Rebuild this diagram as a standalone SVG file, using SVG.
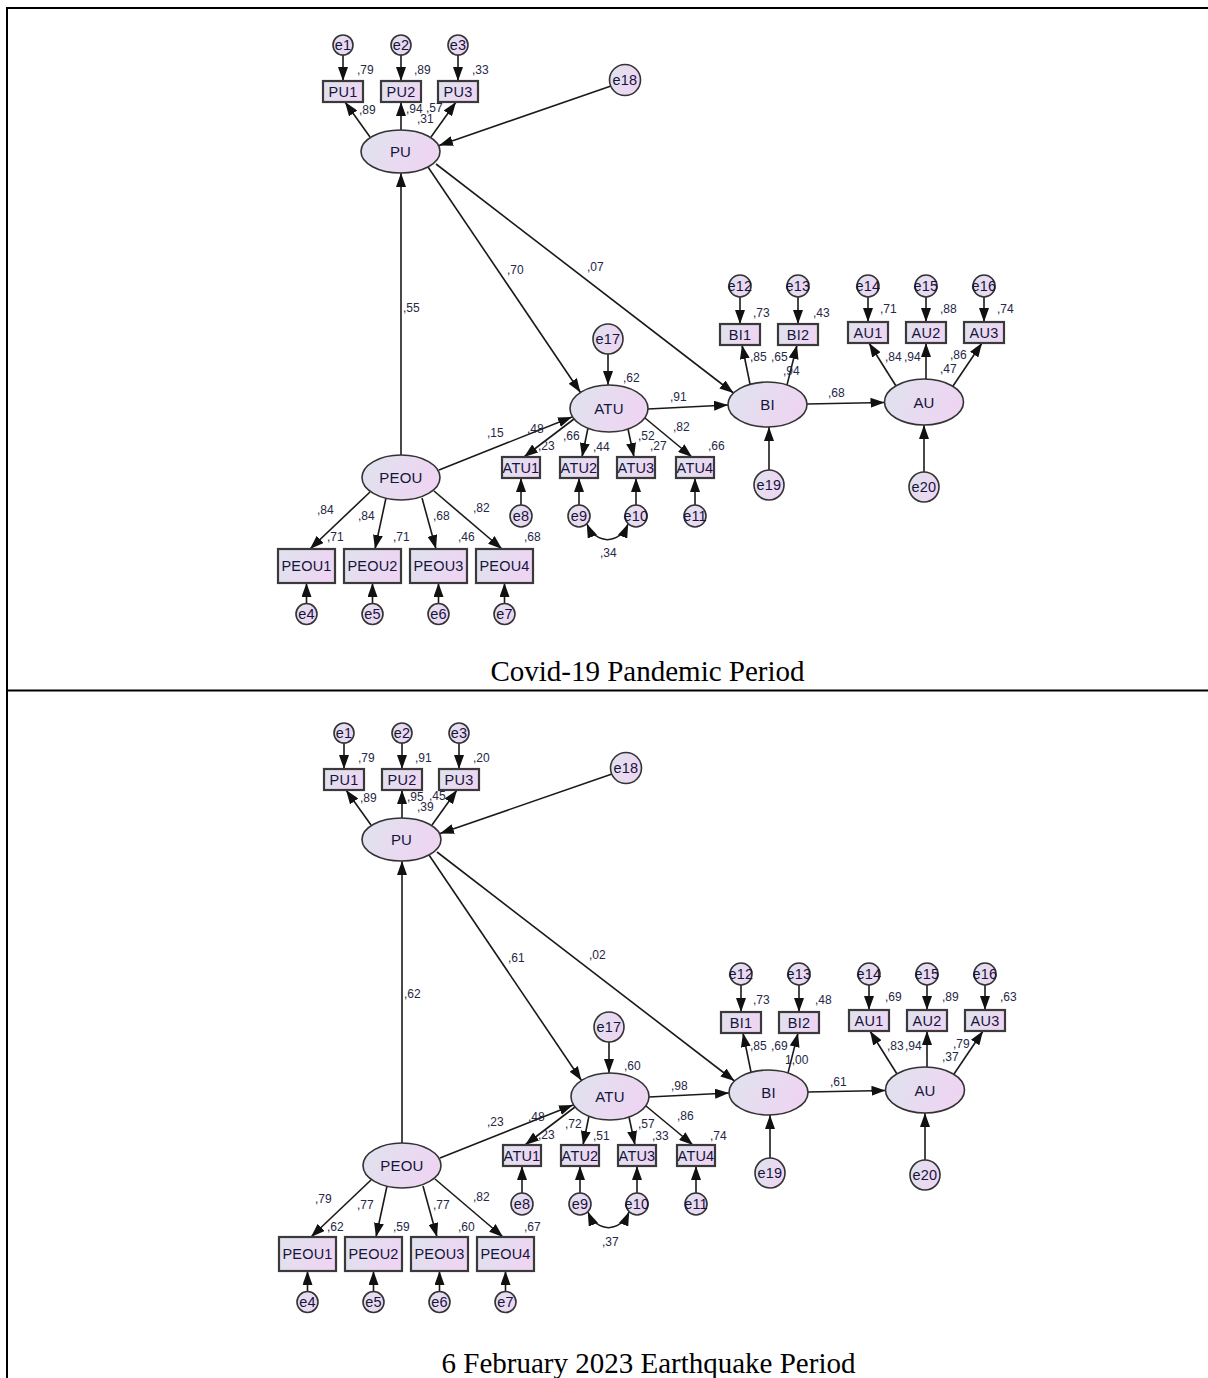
<svg xmlns="http://www.w3.org/2000/svg" width="1208" height="1378" viewBox="0 0 1208 1378">
<defs>
  <linearGradient id="fill" x1="0" y1="0" x2="1" y2="0.3">
    <stop offset="0" stop-color="#dfe3ee"/>
    <stop offset="1" stop-color="#eed5f2"/>
  </linearGradient>
  <marker id="ah" viewBox="0 0 14 10" refX="14" refY="5" markerWidth="14" markerHeight="10" markerUnits="userSpaceOnUse" orient="auto-start-reverse">
    <path d="M0,0 L14,5 L0,10 z" fill="#111"/>
  </marker>
</defs>
<style>
  .lat{fill:url(#fill);stroke:#333;stroke-width:1.6}
  .obs{fill:url(#fill);stroke:#3a3a3a;stroke-width:2.2}
  .err{fill:url(#fill);stroke:#333;stroke-width:1.6}
  .nt{font-family:"Liberation Sans",Arial,sans-serif;font-size:14.5px;fill:#15153a;text-anchor:middle;letter-spacing:0.2px}
  .lt{font-size:15px}
  .paths line,.paths path{stroke:#1a1a1a;stroke-width:1.6;fill:none;marker-end:url(#ah)}
  .paths .cov{marker-start:url(#ah)}
  .coef text{font-family:"Liberation Sans",Arial,sans-serif;font-size:12px;fill:#262645}
  .cap{font-family:"Liberation Serif","Times New Roman",serif;font-size:29px;fill:#000;text-anchor:middle}
  .frame{stroke:#000;stroke-width:2;fill:none}
</style>
<rect width="1208" height="1378" fill="#fff"/>

<!-- table frame -->
<path class="frame" d="M7,1378 V8 H1208"/>
<line class="frame" x1="7" y1="690.5" x2="1208" y2="690.5"/>

<!-- ===== Covid-19 model ===== -->
<g id="covid">
  <g id="c-connectors" class="paths">
    <line x1="343" y1="55" x2="343" y2="81"/>
    <line x1="401" y1="55" x2="401" y2="81"/>
    <line x1="458" y1="55" x2="458" y2="81"/>
    <line x1="370" y1="137" x2="345" y2="102"/>
    <line x1="401" y1="130" x2="401" y2="102"/>
    <line x1="431" y1="137" x2="456" y2="102"/>
    <line x1="611" y1="86" x2="439" y2="145.5"/>
    <line x1="401" y1="455" x2="401" y2="173"/>
    <line x1="428" y1="167" x2="580.5" y2="392.5"/>
    <line x1="436" y1="164" x2="733.5" y2="393"/>
    <line x1="439" y1="470" x2="572" y2="417"/>
    <line x1="608" y1="354" x2="608" y2="385"/>
    <line x1="648" y1="409" x2="728" y2="405"/>
    <line x1="807" y1="404" x2="884.5" y2="402.5"/>
    <line x1="769" y1="470" x2="769" y2="427"/>
    <line x1="924" y1="472" x2="924" y2="425"/>
    <line x1="574" y1="419" x2="524" y2="457"/>
    <line x1="588" y1="428" x2="582" y2="457"/>
    <line x1="628" y1="429" x2="634" y2="457"/>
    <line x1="645" y1="418" x2="692" y2="457"/>
    <line x1="521" y1="505" x2="521" y2="478"/>
    <line x1="579" y1="505" x2="579" y2="478"/>
    <line x1="636" y1="505" x2="636" y2="478"/>
    <line x1="695" y1="505" x2="695" y2="478"/>
    <path class="cov" d="M586.8,523.8 C596,545 619,545 628.2,523.8"/>
    <line x1="370" y1="492" x2="310" y2="549"/>
    <line x1="386" y1="498" x2="375" y2="549"/>
    <line x1="422" y1="498" x2="436" y2="549"/>
    <line x1="434" y1="491" x2="502" y2="549"/>
    <line x1="306.5" y1="603.5" x2="306.5" y2="583"/>
    <line x1="372.5" y1="603.5" x2="372.5" y2="583"/>
    <line x1="438.5" y1="603.5" x2="438.5" y2="583"/>
    <line x1="504.5" y1="603.5" x2="504.5" y2="583"/>
    <line x1="750" y1="384" x2="742" y2="345"/>
    <line x1="787" y1="385" x2="797" y2="345"/>
    <line x1="740" y1="297" x2="740" y2="324"/>
    <line x1="798" y1="297" x2="798" y2="324"/>
    <line x1="896" y1="386" x2="869" y2="343"/>
    <line x1="926" y1="379" x2="926" y2="343"/>
    <line x1="953" y1="386" x2="982" y2="343"/>
    <line x1="868" y1="297" x2="868" y2="322"/>
    <line x1="926" y1="297" x2="926" y2="322"/>
    <line x1="984" y1="297" x2="984" y2="322"/>
  </g>
  <g id="c-nodes">
    <g id="c-e1"><circle class="err" cx="343" cy="45" r="10"/><text class="nt" x="343" y="50">e1</text></g>
    <g id="c-e2"><circle class="err" cx="401" cy="45" r="10"/><text class="nt" x="401" y="50">e2</text></g>
    <g id="c-e3"><circle class="err" cx="458" cy="45" r="10"/><text class="nt" x="458" y="50">e3</text></g>
    <g id="c-PU1"><rect class="obs" x="323" y="81" width="40" height="21"/><text class="nt" x="343" y="96.5">PU1</text></g>
    <g id="c-PU2"><rect class="obs" x="381" y="81" width="40" height="21"/><text class="nt" x="401" y="96.5">PU2</text></g>
    <g id="c-PU3"><rect class="obs" x="438" y="81" width="40" height="21"/><text class="nt" x="458" y="96.5">PU3</text></g>
    <g id="c-PU"><ellipse class="lat" cx="400.5" cy="151.5" rx="39.5" ry="21.5"/><text class="nt lt" x="400.5" y="157">PU</text></g>
    <g id="c-e18"><circle class="err" cx="625" cy="80" r="15.5"/><text class="nt" x="625" y="85">e18</text></g>
    <g id="c-e17"><circle class="err" cx="608" cy="339" r="15"/><text class="nt" x="608" y="344">e17</text></g>
    <g id="c-ATU"><ellipse class="lat" cx="609" cy="408.5" rx="39" ry="23.5"/><text class="nt lt" x="609" y="414">ATU</text></g>
    <g id="c-ATU1"><rect class="obs" x="502" y="457" width="38" height="21"/><text class="nt" x="521" y="472.5">ATU1</text></g>
    <g id="c-ATU2"><rect class="obs" x="560" y="457" width="38" height="21"/><text class="nt" x="579" y="472.5">ATU2</text></g>
    <g id="c-ATU3"><rect class="obs" x="617" y="457" width="38" height="21"/><text class="nt" x="636" y="472.5">ATU3</text></g>
    <g id="c-ATU4"><rect class="obs" x="676" y="457" width="38" height="21"/><text class="nt" x="695" y="472.5">ATU4</text></g>
    <g id="c-e8"><circle class="err" cx="521" cy="516" r="11"/><text class="nt" x="521" y="521">e8</text></g>
    <g id="c-e9"><circle class="err" cx="579" cy="516" r="11"/><text class="nt" x="579" y="521">e9</text></g>
    <g id="c-e10"><circle class="err" cx="636" cy="516" r="11"/><text class="nt" x="636" y="521">e10</text></g>
    <g id="c-e11"><circle class="err" cx="695" cy="516" r="11"/><text class="nt" x="695" y="521">e11</text></g>
    <g id="c-PEOU"><ellipse class="lat" cx="401" cy="477.5" rx="39" ry="22.5"/><text class="nt lt" x="401" y="483">PEOU</text></g>
    <g id="c-PEOU1"><rect class="obs" x="278" y="549" width="57" height="34"/><text class="nt" x="306.5" y="571">PEOU1</text></g>
    <g id="c-PEOU2"><rect class="obs" x="344" y="549" width="57" height="34"/><text class="nt" x="372.5" y="571">PEOU2</text></g>
    <g id="c-PEOU3"><rect class="obs" x="410" y="549" width="57" height="34"/><text class="nt" x="438.5" y="571">PEOU3</text></g>
    <g id="c-PEOU4"><rect class="obs" x="476" y="549" width="57" height="34"/><text class="nt" x="504.5" y="571">PEOU4</text></g>
    <g id="c-e4"><circle class="err" cx="306.5" cy="614" r="10.5"/><text class="nt" x="306.5" y="619">e4</text></g>
    <g id="c-e5"><circle class="err" cx="372.5" cy="614" r="10.5"/><text class="nt" x="372.5" y="619">e5</text></g>
    <g id="c-e6"><circle class="err" cx="438.5" cy="614" r="10.5"/><text class="nt" x="438.5" y="619">e6</text></g>
    <g id="c-e7"><circle class="err" cx="504.5" cy="614" r="10.5"/><text class="nt" x="504.5" y="619">e7</text></g>
    <g id="c-BI"><ellipse class="lat" cx="767.5" cy="404.5" rx="39.5" ry="22.5"/><text class="nt lt" x="767.5" y="410">BI</text></g>
    <g id="c-e19"><circle class="err" cx="769" cy="485" r="15"/><text class="nt" x="769" y="490">e19</text></g>
    <g id="c-BI1"><rect class="obs" x="720" y="324" width="40" height="21"/><text class="nt" x="740" y="339.5">BI1</text></g>
    <g id="c-BI2"><rect class="obs" x="778" y="324" width="40" height="21"/><text class="nt" x="798" y="339.5">BI2</text></g>
    <g id="c-e12"><circle class="err" cx="740" cy="286" r="11"/><text class="nt" x="740" y="291">e12</text></g>
    <g id="c-e13"><circle class="err" cx="798" cy="286" r="11"/><text class="nt" x="798" y="291">e13</text></g>
    <g id="c-AU"><ellipse class="lat" cx="924" cy="402" rx="39.5" ry="23"/><text class="nt lt" x="924" y="407.5">AU</text></g>
    <g id="c-e20"><circle class="err" cx="924" cy="487" r="15"/><text class="nt" x="924" y="492">e20</text></g>
    <g id="c-AU1"><rect class="obs" x="848" y="322" width="40" height="21"/><text class="nt" x="868" y="337.5">AU1</text></g>
    <g id="c-AU2"><rect class="obs" x="906" y="322" width="40" height="21"/><text class="nt" x="926" y="337.5">AU2</text></g>
    <g id="c-AU3"><rect class="obs" x="964" y="322" width="40" height="21"/><text class="nt" x="984" y="337.5">AU3</text></g>
    <g id="c-e14"><circle class="err" cx="868" cy="286" r="11"/><text class="nt" x="868" y="291">e14</text></g>
    <g id="c-e15"><circle class="err" cx="926" cy="286" r="11"/><text class="nt" x="926" y="291">e15</text></g>
    <g id="c-e16"><circle class="err" cx="984" cy="286" r="11"/><text class="nt" x="984" y="291">e16</text></g>
  </g>
  <g id="c-estimates" class="coef">
    <text x="357" y="74">,79</text><text x="414" y="74">,89</text><text x="472" y="74">,33</text>
    <text x="359" y="114">,89</text><text x="406" y="113">,94</text><text x="426" y="112">,57</text><text x="417" y="123">,31</text>
    <text x="403" y="312">,55</text><text x="507" y="274">,70</text><text x="587" y="271">,07</text>
    <text x="623" y="382">,62</text><text x="670" y="401">,91</text><text x="487" y="437">,15</text><text x="527" y="433">,48</text>
    <text x="538" y="450">,23</text><text x="563" y="440">,66</text><text x="593" y="451">,44</text><text x="638" y="440">,52</text>
    <text x="650" y="450">,27</text><text x="673" y="431">,82</text><text x="708" y="450">,66</text><text x="600" y="557">,34</text>
    <text x="317" y="514">,84</text><text x="358" y="520">,84</text><text x="433" y="520">,68</text><text x="473" y="512">,82</text>
    <text x="327" y="541">,71</text><text x="393" y="541">,71</text><text x="458" y="541">,46</text><text x="524" y="541">,68</text>
    <text x="753" y="317">,73</text><text x="813" y="317">,43</text><text x="750" y="361">,85</text><text x="771" y="361">,65</text>
    <text x="783" y="375">,94</text><text x="828" y="397">,68</text>
    <text x="880" y="313">,71</text><text x="940" y="313">,88</text><text x="997" y="313">,74</text>
    <text x="885" y="361">,84</text><text x="904" y="361">,94</text><text x="950" y="359">,86</text><text x="940" y="373">,47</text>
  </g>
</g>
<text class="cap" x="647.5" y="681">Covid-19 Pandemic Period</text>

<!-- ===== 6 February 2023 earthquake model ===== -->
<g id="quake" transform="translate(1,688)">
  <g id="q-connectors" class="paths">
    <line x1="343" y1="55" x2="343" y2="81"/>
    <line x1="401" y1="55" x2="401" y2="81"/>
    <line x1="458" y1="55" x2="458" y2="81"/>
    <line x1="370" y1="137" x2="345" y2="102"/>
    <line x1="401" y1="130" x2="401" y2="102"/>
    <line x1="431" y1="137" x2="456" y2="102"/>
    <line x1="611" y1="86" x2="439" y2="145.5"/>
    <line x1="401" y1="455" x2="401" y2="173"/>
    <line x1="428" y1="167" x2="580.5" y2="392.5"/>
    <line x1="436" y1="164" x2="733.5" y2="393"/>
    <line x1="439" y1="470" x2="572" y2="417"/>
    <line x1="608" y1="354" x2="608" y2="385"/>
    <line x1="648" y1="409" x2="728" y2="405"/>
    <line x1="807" y1="404" x2="884.5" y2="402.5"/>
    <line x1="769" y1="470" x2="769" y2="427"/>
    <line x1="924" y1="472" x2="924" y2="425"/>
    <line x1="574" y1="419" x2="524" y2="457"/>
    <line x1="588" y1="428" x2="582" y2="457"/>
    <line x1="628" y1="429" x2="634" y2="457"/>
    <line x1="645" y1="418" x2="692" y2="457"/>
    <line x1="521" y1="505" x2="521" y2="478"/>
    <line x1="579" y1="505" x2="579" y2="478"/>
    <line x1="636" y1="505" x2="636" y2="478"/>
    <line x1="695" y1="505" x2="695" y2="478"/>
    <path class="cov" d="M586.8,523.8 C596,545 619,545 628.2,523.8"/>
    <line x1="370" y1="492" x2="310" y2="549"/>
    <line x1="386" y1="498" x2="375" y2="549"/>
    <line x1="422" y1="498" x2="436" y2="549"/>
    <line x1="434" y1="491" x2="502" y2="549"/>
    <line x1="306.5" y1="603.5" x2="306.5" y2="583"/>
    <line x1="372.5" y1="603.5" x2="372.5" y2="583"/>
    <line x1="438.5" y1="603.5" x2="438.5" y2="583"/>
    <line x1="504.5" y1="603.5" x2="504.5" y2="583"/>
    <line x1="750" y1="384" x2="742" y2="345"/>
    <line x1="787" y1="385" x2="797" y2="345"/>
    <line x1="740" y1="297" x2="740" y2="324"/>
    <line x1="798" y1="297" x2="798" y2="324"/>
    <line x1="896" y1="386" x2="869" y2="343"/>
    <line x1="926" y1="379" x2="926" y2="343"/>
    <line x1="953" y1="386" x2="982" y2="343"/>
    <line x1="868" y1="297" x2="868" y2="322"/>
    <line x1="926" y1="297" x2="926" y2="322"/>
    <line x1="984" y1="297" x2="984" y2="322"/>
  </g>
  <g id="q-nodes">
    <g id="q-e1"><circle class="err" cx="343" cy="45" r="10"/><text class="nt" x="343" y="50">e1</text></g>
    <g id="q-e2"><circle class="err" cx="401" cy="45" r="10"/><text class="nt" x="401" y="50">e2</text></g>
    <g id="q-e3"><circle class="err" cx="458" cy="45" r="10"/><text class="nt" x="458" y="50">e3</text></g>
    <g id="q-PU1"><rect class="obs" x="323" y="81" width="40" height="21"/><text class="nt" x="343" y="96.5">PU1</text></g>
    <g id="q-PU2"><rect class="obs" x="381" y="81" width="40" height="21"/><text class="nt" x="401" y="96.5">PU2</text></g>
    <g id="q-PU3"><rect class="obs" x="438" y="81" width="40" height="21"/><text class="nt" x="458" y="96.5">PU3</text></g>
    <g id="q-PU"><ellipse class="lat" cx="400.5" cy="151.5" rx="39.5" ry="21.5"/><text class="nt lt" x="400.5" y="157">PU</text></g>
    <g id="q-e18"><circle class="err" cx="625" cy="80" r="15.5"/><text class="nt" x="625" y="85">e18</text></g>
    <g id="q-e17"><circle class="err" cx="608" cy="339" r="15"/><text class="nt" x="608" y="344">e17</text></g>
    <g id="q-ATU"><ellipse class="lat" cx="609" cy="408.5" rx="39" ry="23.5"/><text class="nt lt" x="609" y="414">ATU</text></g>
    <g id="q-ATU1"><rect class="obs" x="502" y="457" width="38" height="21"/><text class="nt" x="521" y="472.5">ATU1</text></g>
    <g id="q-ATU2"><rect class="obs" x="560" y="457" width="38" height="21"/><text class="nt" x="579" y="472.5">ATU2</text></g>
    <g id="q-ATU3"><rect class="obs" x="617" y="457" width="38" height="21"/><text class="nt" x="636" y="472.5">ATU3</text></g>
    <g id="q-ATU4"><rect class="obs" x="676" y="457" width="38" height="21"/><text class="nt" x="695" y="472.5">ATU4</text></g>
    <g id="q-e8"><circle class="err" cx="521" cy="516" r="11"/><text class="nt" x="521" y="521">e8</text></g>
    <g id="q-e9"><circle class="err" cx="579" cy="516" r="11"/><text class="nt" x="579" y="521">e9</text></g>
    <g id="q-e10"><circle class="err" cx="636" cy="516" r="11"/><text class="nt" x="636" y="521">e10</text></g>
    <g id="q-e11"><circle class="err" cx="695" cy="516" r="11"/><text class="nt" x="695" y="521">e11</text></g>
    <g id="q-PEOU"><ellipse class="lat" cx="401" cy="477.5" rx="39" ry="22.5"/><text class="nt lt" x="401" y="483">PEOU</text></g>
    <g id="q-PEOU1"><rect class="obs" x="278" y="549" width="57" height="34"/><text class="nt" x="306.5" y="571">PEOU1</text></g>
    <g id="q-PEOU2"><rect class="obs" x="344" y="549" width="57" height="34"/><text class="nt" x="372.5" y="571">PEOU2</text></g>
    <g id="q-PEOU3"><rect class="obs" x="410" y="549" width="57" height="34"/><text class="nt" x="438.5" y="571">PEOU3</text></g>
    <g id="q-PEOU4"><rect class="obs" x="476" y="549" width="57" height="34"/><text class="nt" x="504.5" y="571">PEOU4</text></g>
    <g id="q-e4"><circle class="err" cx="306.5" cy="614" r="10.5"/><text class="nt" x="306.5" y="619">e4</text></g>
    <g id="q-e5"><circle class="err" cx="372.5" cy="614" r="10.5"/><text class="nt" x="372.5" y="619">e5</text></g>
    <g id="q-e6"><circle class="err" cx="438.5" cy="614" r="10.5"/><text class="nt" x="438.5" y="619">e6</text></g>
    <g id="q-e7"><circle class="err" cx="504.5" cy="614" r="10.5"/><text class="nt" x="504.5" y="619">e7</text></g>
    <g id="q-BI"><ellipse class="lat" cx="767.5" cy="404.5" rx="39.5" ry="22.5"/><text class="nt lt" x="767.5" y="410">BI</text></g>
    <g id="q-e19"><circle class="err" cx="769" cy="485" r="15"/><text class="nt" x="769" y="490">e19</text></g>
    <g id="q-BI1"><rect class="obs" x="720" y="324" width="40" height="21"/><text class="nt" x="740" y="339.5">BI1</text></g>
    <g id="q-BI2"><rect class="obs" x="778" y="324" width="40" height="21"/><text class="nt" x="798" y="339.5">BI2</text></g>
    <g id="q-e12"><circle class="err" cx="740" cy="286" r="11"/><text class="nt" x="740" y="291">e12</text></g>
    <g id="q-e13"><circle class="err" cx="798" cy="286" r="11"/><text class="nt" x="798" y="291">e13</text></g>
    <g id="q-AU"><ellipse class="lat" cx="924" cy="402" rx="39.5" ry="23"/><text class="nt lt" x="924" y="407.5">AU</text></g>
    <g id="q-e20"><circle class="err" cx="924" cy="487" r="15"/><text class="nt" x="924" y="492">e20</text></g>
    <g id="q-AU1"><rect class="obs" x="848" y="322" width="40" height="21"/><text class="nt" x="868" y="337.5">AU1</text></g>
    <g id="q-AU2"><rect class="obs" x="906" y="322" width="40" height="21"/><text class="nt" x="926" y="337.5">AU2</text></g>
    <g id="q-AU3"><rect class="obs" x="964" y="322" width="40" height="21"/><text class="nt" x="984" y="337.5">AU3</text></g>
    <g id="q-e14"><circle class="err" cx="868" cy="286" r="11"/><text class="nt" x="868" y="291">e14</text></g>
    <g id="q-e15"><circle class="err" cx="926" cy="286" r="11"/><text class="nt" x="926" y="291">e15</text></g>
    <g id="q-e16"><circle class="err" cx="984" cy="286" r="11"/><text class="nt" x="984" y="291">e16</text></g>
  </g>
  <g id="q-estimates" class="coef">
    <text x="357" y="74">,79</text><text x="414" y="74">,91</text><text x="472" y="74">,20</text>
    <text x="359" y="114">,89</text><text x="406" y="113">,95</text><text x="428" y="112">,45</text><text x="416" y="123">,39</text>
    <text x="403" y="310">,62</text><text x="507" y="274">,61</text><text x="588" y="271">,02</text>
    <text x="623" y="382">,60</text><text x="670" y="402">,98</text><text x="486" y="438">,23</text><text x="527" y="433">,48</text>
    <text x="537" y="451">,23</text><text x="564" y="440">,72</text><text x="592" y="452">,51</text><text x="637" y="440">,57</text>
    <text x="651" y="452">,33</text><text x="676" y="432">,86</text><text x="709" y="452">,74</text><text x="601" y="558">,37</text>
    <text x="314" y="515">,79</text><text x="356" y="521">,77</text><text x="432" y="521">,77</text><text x="472" y="513">,82</text>
    <text x="326" y="543">,62</text><text x="392" y="543">,59</text><text x="457" y="543">,60</text><text x="523" y="543">,67</text>
    <text x="752" y="316">,73</text><text x="814" y="316">,48</text><text x="749" y="362">,85</text><text x="770" y="362">,69</text>
    <text x="784" y="376">1,00</text><text x="829" y="398">,61</text>
    <text x="884" y="313">,69</text><text x="941" y="313">,89</text><text x="999" y="313">,63</text>
    <text x="886" y="362">,83</text><text x="904" y="362">,94</text><text x="952" y="360">,79</text><text x="941" y="373">,37</text>
  </g>
</g>
<text class="cap" x="648.5" y="1373">6 February 2023 Earthquake Period</text>
</svg>
